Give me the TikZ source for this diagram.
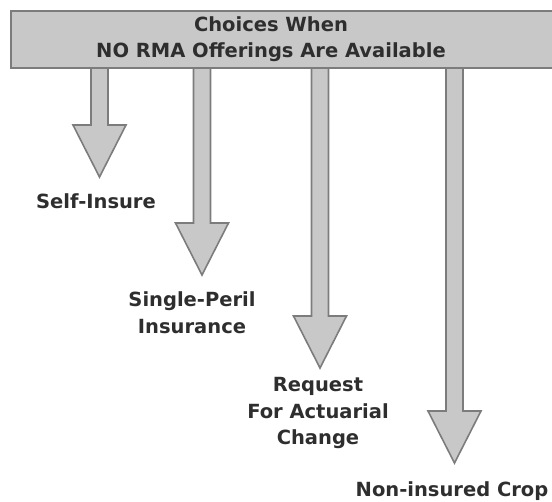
\documentclass[tikz,border=0pt]{standalone}
\usepackage{fontspec}
\setmainfont{DejaVu Sans}
\usetikzlibrary{calc}

\definecolor{boxgray}{HTML}{C8C8C8}
\definecolor{edgegray}{HTML}{7C7C7C}
\definecolor{inkgray}{HTML}{2E2E2E}

\tikzset{
  fatarr/.style={fill=boxgray, draw=edgegray, line width=1.6pt, line join=miter},
  lbl/.style={font=\fontsize{19.5}{26.5}\selectfont\bfseries, text=inkgray, align=center,
      inner sep=0pt, anchor=north}
}

% wide arrow from a point on the header down to a tip
\newcommand\fatarrow[2]{%
  \path[fatarr] ($(#1)+(-8.5,0)$) -- ($(#2)+(-8.5,-52)$) -- ($(#2)+(-26.5,-52)$)
    -- (#2) -- ($(#2)+(26.5,-52)$) -- ($(#2)+(8.5,-52)$) -- ($(#1)+(8.5,0)$);}

\begin{document}
\begin{tikzpicture}[x=1pt,y=-1pt]

\useasboundingbox (0,0) rectangle (552,502);

    \coordinate (s1) at (99.5,64);
    \coordinate (s2) at (202,64);
    \coordinate (s3) at (320,64);
    \coordinate (s4) at (454.5,64);

    \coordinate (t1) at (99.5,177);
    \coordinate (t2) at (202,275);
    \coordinate (t3) at (320,368);
    \coordinate (t4) at (454.5,463);

    \fatarrow{s1}{t1}
    \fatarrow{s2}{t2}
    \fatarrow{s3}{t3}
    \fatarrow{s4}{t4}

    \node (hdr) at (288,39.5) [rectangle, fill=boxgray, draw=edgegray, line width=1.6pt,
        minimum width=554pt, minimum height=57pt] {};
    \node (title) at (271,16.5) [lbl, font=\fontsize{19.5}{26}\selectfont\bfseries] {Choices When\\NO RMA Offerings Are Available};

    \node (selfins) at (96,193.5) [lbl] {Self-Insure};
    \node (single) at (192,291.5) [lbl] {Single-Peril\\Insurance};
    \node (request) at (318,377.5) [lbl] {Request\\For Actuarial\\Change};
    \node (noncrop) at (452,481.5) [lbl] {Non-insured Crop};

\end{tikzpicture}
\end{document}
